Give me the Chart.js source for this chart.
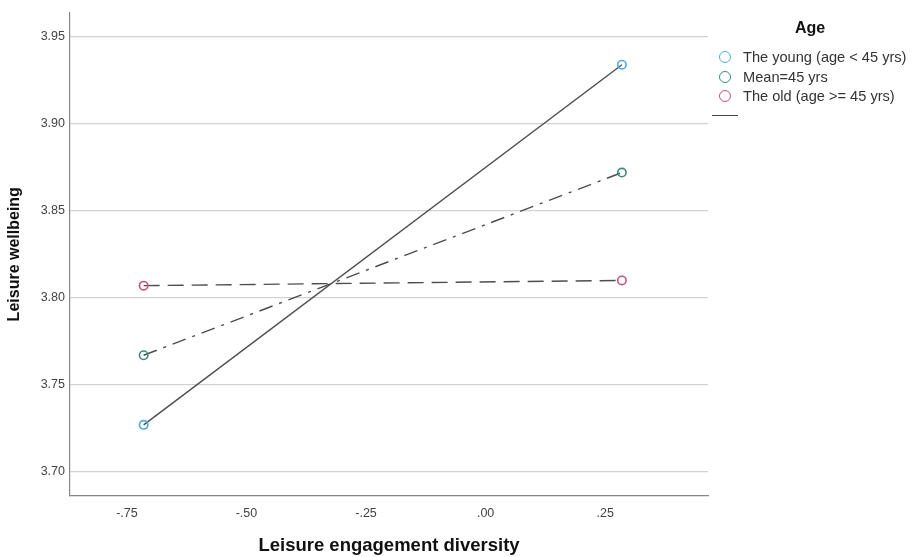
<!DOCTYPE html>
<html>
<head>
<meta charset="utf-8">
<script src="https://cdn.jsdelivr.net/npm/chart.js@4.4.1/dist/chart.umd.min.js"></script>
<style>
  html, body { margin: 0; padding: 0; background: #fff; }
  #wrap { position: relative; width: 913px; height: 557px; }
  #legend { position: absolute; left: 0; top: 0; font-family: "Liberation Sans", Arial, sans-serif; color: #333; }
  #legend .title { position: absolute; left: 705px; width: 210px; top: 18px; line-height: 20px;
                   text-align: center; font-weight: bold; font-size: 16px; color: #111; }
  #legend .item { position: absolute; left: 719px; height: 20px; line-height: 20px; font-size: 14.6px; white-space: nowrap; }
  #legend .dot { position: absolute; left: 0; top: 3.5px; width: 10px; height: 10px; border: 1.6px solid; border-radius: 50%; }
  #legend .txt { position: absolute; left: 24px; top: 0; }
  #legend .stub { position: absolute; left: 712px; top: 115px; width: 26px; border-top: 1.6px solid #444; }
</style>
</head>
<body>
<div id="wrap">
  <canvas id="chart" width="913" height="557"></canvas>
  <div id="legend"></div>
</div>
<script>
// x = leisure engagement diversity (centred), y = leisure wellbeing
const xValues = [-0.715, 0.285];
const youngValues = [3.727, 3.934];
const meanValues = [3.767, 3.872];
const oldValues = [3.807, 3.810];

const seriesLabels = ['The young (age < 45 yrs)', 'Mean=45 yrs', 'The old (age >= 45 yrs)'];
const seriesColors = ['#4fa9e3', '#3b8a7c', '#c4517f'];
const seriesDashes = [[], [14, 7, 3, 7], [16, 8]];

const xTicks = [-0.75, -0.5, -0.25, 0, 0.25];
const xTickLabels = ['-.75', '-.50', '-.25', '.00', '.25'];
const yTicks = [3.70, 3.75, 3.80, 3.85, 3.90, 3.95];
const yTickLabels = ['3.70', '3.75', '3.80', '3.85', '3.90', '3.95'];

const FONT = '"Liberation Sans", Arial, sans-serif';

function pts(ys) {
  return xValues.map((x, i) => ({ x: x, y: ys[i] }));
}

const allSeries = [youngValues, meanValues, oldValues];
const datasets = allSeries.map((ys, i) => ({
  label: seriesLabels[i],
  data: pts(ys),
  showLine: true,
  borderColor: '#4d4d4d',
  borderWidth: 1.4,
  borderDash: seriesDashes[i],
  pointRadius: 4.2,
  pointHoverRadius: 4.2,
  pointBorderWidth: 1.6,
  pointBorderColor: seriesColors[i],
  pointBackgroundColor: 'rgba(255,255,255,0)',
  tension: 0
}));

function tickLabel(values, labels) {
  return function(v) {
    const i = values.findIndex(t => Math.abs(t - v) < 1e-6);
    return i >= 0 ? labels[i] : '';
  };
}

new Chart(document.getElementById('chart').getContext('2d'), {
  type: 'scatter',
  data: { datasets: datasets },
  options: {
    responsive: false,
    animation: false,
    devicePixelRatio: 1,
    layout: { padding: { top: 9, right: 205, left: 0, bottom: 0 } },
    plugins: { legend: { display: false }, tooltip: { enabled: false } },
    scales: {
      x: {
        type: 'linear',
        min: -0.869,
        max: 0.465,
        afterBuildTicks: s => { s.ticks = xTicks.map(v => ({ value: v })); },
        afterFit: s => { s.height = 61; },
        grid: { display: false },
        border: { color: '#888', width: 1.2 },
        ticks: { padding: 2, color: '#444', font: { family: FONT, size: 12.5 },
                 callback: tickLabel(xTicks, xTickLabels) },
        title: { display: true, text: 'Leisure engagement diversity', color: '#111',
                 font: { family: FONT, size: 18.5, weight: 'bold' }, padding: { top: 1, bottom: 0 } }
      },
      y: {
        min: 3.6861,
        max: 3.964,
        afterBuildTicks: s => { s.ticks = yTicks.map(v => ({ value: v })); },
        afterFit: s => { s.width = 70; },
        grid: { color: '#d2d2d2', lineWidth: 1.2, drawTicks: false },
        border: { color: '#888', width: 1.2 },
        ticks: { padding: 5, color: '#444', font: { family: FONT, size: 12.5 },
                 callback: tickLabel(yTicks, yTickLabels) },
        title: { display: true, text: 'Leisure wellbeing', color: '#111',
                 font: { family: FONT, size: 16, weight: 'bold' }, padding: { top: 5, bottom: 0 } }
      }
    }
  }
});

// legend (SPSS style, to the right of the plot)
const legend = document.getElementById('legend');
const title = document.createElement('div');
title.className = 'title';
title.textContent = 'Age';
legend.appendChild(title);
const rowTops = [47, 67, 86];
seriesLabels.forEach((lab, i) => {
  const item = document.createElement('div');
  item.className = 'item';
  item.style.top = rowTops[i] + 'px';
  const dot = document.createElement('span');
  dot.className = 'dot';
  dot.style.borderColor = seriesColors[i];
  const txt = document.createElement('span');
  txt.className = 'txt';
  txt.textContent = lab;
  item.appendChild(dot);
  item.appendChild(txt);
  legend.appendChild(item);
});
const stub = document.createElement('div');
stub.className = 'stub';
legend.appendChild(stub);
</script>
</body>
</html>
